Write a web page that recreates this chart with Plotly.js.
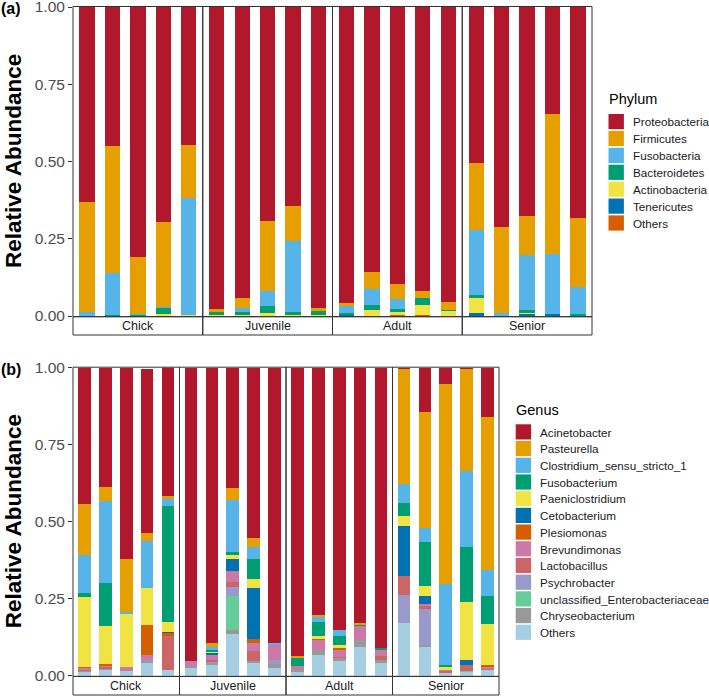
<!DOCTYPE html>
<html><head><meta charset="utf-8">
<script src="https://cdn.plot.ly/plotly-3.0.1.min.js"></script>
<style>html,body{margin:0;padding:0;background:#fff}#chart{width:709px;height:697px}</style>
</head><body><div id="chart"></div>
<script>
// ---------- data ----------
const groups = ['Chick', 'Juvenile', 'Adult', 'Senior'];
const sampleIdx = [0, 1, 2, 3, 4];   // 5 samples per group

// Panel (a) – Phylum (20 samples: Chick 1-5, Juvenile 1-5, Adult 1-5, Senior 1-5)
const phylumNames  = ['Proteobacteria', 'Firmicutes', 'Fusobacteria', 'Bacteroidetes', 'Actinobacteria', 'Tenericutes', 'Others'];
const phylumColors = ['#B2182B', '#E69F00', '#56B4E9', '#009E73', '#F0E442', '#0072B2', '#D55E00'];
const Proteobacteria = [0.630,0.449,0.808,0.697,0.446, 0.978,0.943,0.693,0.643,0.974, 0.959,0.856,0.896,0.918,0.956, 0.506,0.711,0.676,0.345,0.684];
const Firmicutes     = [0.356,0.413,0.185,0.275,0.171, 0.008,0.032,0.225,0.114,0.009, 0.009,0.055,0.050,0.023,0.023, 0.215,0.280,0.128,0.454,0.221];
const Fusobacteria   = [0.014,0.135,0.003,0.003,0.380, 0,0.011,0.049,0.229,0, 0.023,0.054,0.032,0,0, 0.211,0.009,0.177,0.193,0.090];
const Bacteroidetes  = [0,0.003,0.004,0.019,0, 0.011,0.011,0.023,0.010,0.014, 0.006,0.016,0.008,0.023,0.004, 0.011,0,0.008,0,0.005];
const Actinobacteria = [0,0,0,0.006,0.003, 0.003,0.003,0.010,0.004,0.003, 0,0.019,0.011,0.032,0.017, 0.046,0,0.005,0,0];
const Tenericutes    = [0,0,0,0,0, 0,0,0,0,0, 0.003,0,0,0,0, 0.011,0,0.006,0.008,0];
const PhylumOthers   = [0,0,0,0,0, 0,0,0,0,0, 0,0,0.003,0.004,0, 0,0,0,0,0];
const phylumValues = [Proteobacteria, Firmicutes, Fusobacteria, Bacteroidetes, Actinobacteria, Tenericutes, PhylumOthers];

// Panel (b) – Genus
const genusNames  = ['Acinetobacter', 'Pasteurella', 'Clostridium_sensu_stricto_1', 'Fusobacterium', 'Paeniclostridium', 'Cetobacterium', 'Plesiomonas', 'Brevundimonas', 'Lactobacillus', 'Psychrobacter', 'unclassified_Enterobacteriaceae', 'Chryseobacterium', 'Others'];
const genusColors = ['#B2182B', '#E69F00', '#56B4E9', '#009E73', '#F0E442', '#0072B2', '#D55E00', '#CC79A7', '#CC6666', '#9999CC', '#66CC99', '#999999', '#A6CEE3'];
const Acinetobacter    = [0.443,0.386,0.622,0.532,0.416, 0.952,0.893,0.392,0.554,0.895, 0.937,0.804,0.850,0.830,0.909, 0.004,0.144,0.054,0.005,0.161];
const Pasteurella      = [0.168,0.047,0.170,0.028,0.011, 0,0.014,0.038,0.029,0, 0.004,0.005,0.003,0.004,0, 0.374,0.376,0.648,0.331,0.496];
const Clostridium      = [0.124,0.267,0.007,0.151,0.022, 0,0.009,0.167,0.038,0.006, 0,0.017,0.019,0,0, 0.062,0.046,0.263,0.245,0.084];
const Fusobacterium    = [0.012,0.139,0,0,0.379, 0,0.008,0.011,0.066,0, 0.028,0.046,0.028,0.004,0.006, 0.042,0.144,0.007,0.179,0.091];
const Paeniclostridium = [0.226,0.124,0.174,0.121,0.030, 0,0.003,0.014,0.029,0, 0,0.008,0.011,0,0, 0.031,0.032,0.008,0.189,0.133];
const Cetobacterium    = [0,0,0,0,0.005, 0,0.005,0.037,0.166,0, 0,0,0,0,0, 0.163,0.024,0,0.016,0];
const Plesiomonas      = [0.004,0.006,0,0.098,0.009, 0,0,0,0.011,0, 0,0.005,0.004,0,0, 0,0,0,0,0.007];
const Brevundimonas    = [0.006,0.002,0.011,0.014,0, 0.017,0.016,0.036,0.026,0.048, 0.009,0.030,0.023,0.046,0.022, 0,0.009,0.004,0,0.005];
const Lactobacillus    = [0.003,0.008,0,0,0.111, 0,0.006,0.016,0.033,0, 0,0,0.004,0,0.013, 0.062,0.007,0.008,0.019,0.005];
const Psychrobacter    = [0,0,0,0.004,0, 0,0.005,0.029,0,0.013, 0,0,0,0,0, 0.090,0.119,0,0,0];
const Unclassified     = [0,0,0,0,0, 0,0,0.110,0,0, 0,0,0,0,0, 0,0,0,0.004,0];
const Chryseobacterium = [0.003,0.003,0,0.008,0, 0.007,0.006,0.013,0.008,0.014, 0.009,0.018,0.010,0.022,0.008, 0,0.005,0,0,0];
const GenusOthers      = [0.013,0.018,0.016,0.040,0.018, 0.024,0.035,0.137,0.040,0.024, 0.013,0.067,0.048,0.094,0.042, 0.172,0.094,0.008,0.012,0.018];
const genusValues = [Acinetobacter, Pasteurella, Clostridium, Fusobacterium, Paeniclostridium, Cetobacterium, Plesiomonas, Brevundimonas, Lactobacillus, Psychrobacter, Unclassified, Chryseobacterium, GenusOthers];

const yTicks = [0, 0.25, 0.5, 0.75, 1];
const yTickText = ['0.00', '0.25', '0.50', '0.75', '1.00'];

// ---------- geometry (pixels) ----------
const W = 709, H = 697;
const FONT = 'Liberation Sans, Arial, Helvetica, sans-serif';
const px = v => v / W;
const py = v => 1 - v / H;

const panels = [
  { tag: '(a)', names: phylumNames, colors: phylumColors, values: phylumValues, legendTitle: 'Phylum',
    left: 73, right: 592, top: 7, bottom: 316, stripBottom: 335, axOffset: 0, yName: 'y',
    legX: 608.5, legTitleY: 99, legTop: 114, legPitch: 16.9 },
  { tag: '(b)', names: genusNames, colors: genusColors, values: genusValues, legendTitle: 'Genus',
    left: 73, right: 499, top: 367.7, bottom: 675.7, stripBottom: 695, axOffset: 4, yName: 'y2',
    legX: 515.7, legTitleY: 410, legTop: 424.3, legPitch: 16.7 }
];

const traces = [];
const layout = {
  width: W, height: H,
  margin: { l: 0, r: 0, t: 0, b: 0, pad: 0, autoexpand: false },
  paper_bgcolor: '#fff', plot_bgcolor: 'rgba(0,0,0,0)',
  barmode: 'stack', bargap: 0,
  font: { family: FONT, color: '#1a1a1a' },
  showlegend: false,
  shapes: [], annotations: [],
  hovermode: false
};

panels.forEach(p => {
  const fw = (p.right - p.left) / groups.length;
  const yKey = p.yName === 'y' ? 'yaxis' : 'yaxis2';
  layout[yKey] = {
    domain: [py(p.bottom), py(p.top)], range: [0, 1],
    anchor: 'x' + (p.axOffset === 0 ? '' : (p.axOffset + 1)),
    tickvals: yTicks, ticktext: yTickText, ticklabeloverflow: 'allow',
    ticks: 'outside', ticklen: 4, tickwidth: 1, tickcolor: '#333',
    tickfont: { family: FONT, size: 15.5, color: '#4d4d4d' },
    showgrid: false, zeroline: false, showline: false, fixedrange: true
  };
  groups.forEach((g, gi) => {
    const axN = p.axOffset + gi + 1;
    const xName = 'x' + (axN === 1 ? '' : axN);
    const xKey = 'xaxis' + (axN === 1 ? '' : axN);
    const x0 = p.left + gi * fw, x1 = x0 + fw;
    layout[xKey] = {
      domain: [px(x0), px(x1)], range: [-0.55, 4.55], anchor: p.yName,
      showticklabels: false, ticks: '', showgrid: false, zeroline: false, showline: false, fixedrange: true
    };
    // stacked series, bottom-most first
    for (let s = p.names.length - 1; s >= 0; s--) {
      traces.push({
        type: 'bar', x: sampleIdx, y: p.values[s].slice(gi * 5, gi * 5 + 5),
        xaxis: xName, yaxis: p.yName, width: 0.6,
        name: p.names[s], showlegend: false,
        marker: { color: p.colors[s], line: { width: 0 } },
        hoverinfo: 'skip'
      });
    }
    // panel border
    layout.shapes.push({ type: 'rect', xref: 'paper', yref: 'paper', layer: 'above',
      x0: px(x0), x1: px(x1), y0: py(p.bottom + 0.7), y1: py(p.top - 0.5),
      line: { color: '#333', width: 1 }, fillcolor: 'rgba(0,0,0,0)' });
    // strip box + label
    layout.shapes.push({ type: 'rect', xref: 'paper', yref: 'paper', layer: 'above',
      x0: px(x0), x1: px(x1), y0: py(p.stripBottom), y1: py(p.bottom + 0.7),
      line: { color: '#333', width: 1 }, fillcolor: 'rgba(0,0,0,0)' });
    layout.annotations.push({ xref: 'paper', yref: 'paper', x: px((x0 + x1) / 2), y: py((p.bottom + p.stripBottom) / 2 + 0.5),
      text: g, showarrow: false, xanchor: 'center', yanchor: 'middle',
      font: { family: FONT, size: 12.5, color: '#1a1a1a' } });
  });
  // y title, centred on the panel
  layout.annotations.push({ xref: 'paper', yref: 'paper', x: px(13.5), y: py((p.top + p.bottom) / 2),
    text: '<b>Relative Abundance</b>', textangle: -90, showarrow: false, xanchor: 'center', yanchor: 'middle',
    font: { family: FONT, size: 22.5, color: '#000' } });
  // panel tag
  layout.annotations.push({ xref: 'paper', yref: 'paper', x: px(-1), y: py(p.top + 1.5),
    text: '<b>' + p.tag + '</b>', showarrow: false, xanchor: 'left', yanchor: 'middle',
    font: { family: FONT, size: 16, color: '#000' } });

  // legend (keys drawn from the same names / colours arrays)
  layout.annotations.push({ xref: 'paper', yref: 'paper', x: px(p.legX - 2), y: py(p.legTitleY),
    text: p.legendTitle, showarrow: false, xanchor: 'left', yanchor: 'middle',
    font: { family: FONT, size: 14.5, color: '#000' } });
  p.names.forEach((n, i) => {
    const ky = p.legTop + i * p.legPitch;
    layout.shapes.push({ type: 'rect', xref: 'paper', yref: 'paper', layer: 'above',
      x0: px(p.legX), x1: px(p.legX + 15.4), y0: py(ky + 15.2), y1: py(ky),
      line: { width: 0 }, fillcolor: p.colors[i] });
    layout.annotations.push({ xref: 'paper', yref: 'paper', x: px(p.legX + 22), y: py(ky + 7.8),
      text: n, showarrow: false, xanchor: 'left', yanchor: 'middle',
      font: { family: FONT, size: 11.7, color: '#1a1a1a' } });
  });
});

Plotly.newPlot('chart', traces, layout, { staticPlot: true, displayModeBar: false });
</script>
</body></html>
